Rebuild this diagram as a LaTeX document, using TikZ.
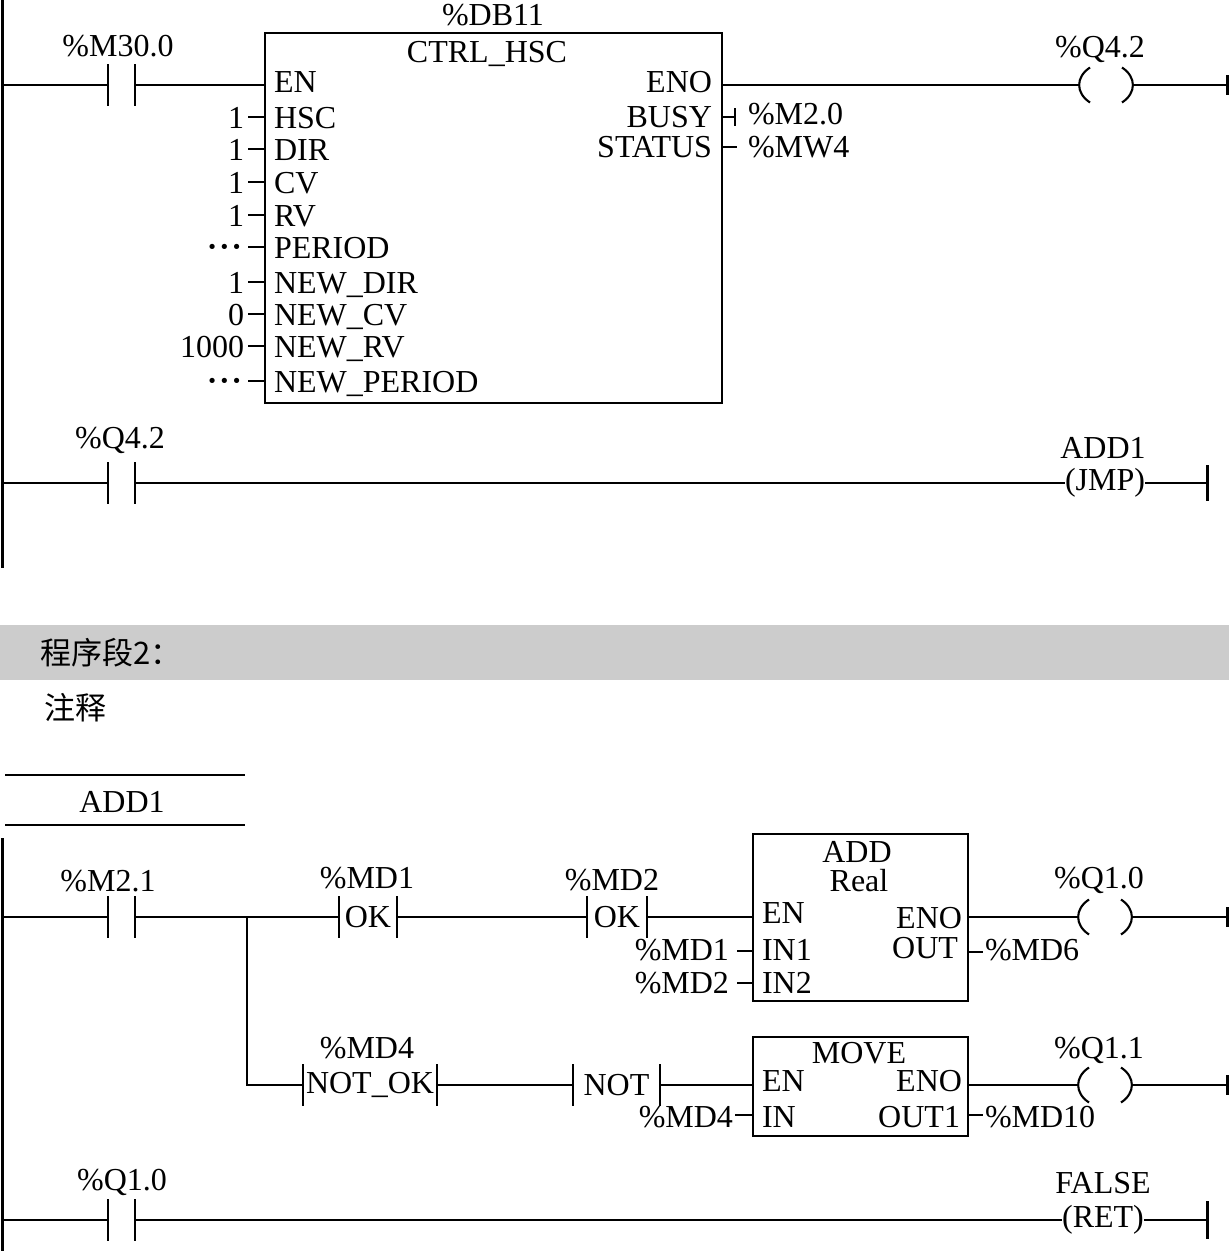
\documentclass[tikz,border=0pt]{standalone}
\usepackage{fontspec}
\setmainfont{Liberation Serif}
\newfontfamily\cjkf{Noto Sans CJK SC}
\newcommand\dgf{\fontsize{32}{36}\selectfont}
\newcommand\cjks{\cjkf\fontsize{31}{34}\selectfont}
\newcommand\dotsx{{\bfseries\textperiodcentered\kern1.5pt\textperiodcentered\kern1.5pt\textperiodcentered}}
\newcommand\drawbars[1]{\draw[bar] (#1.north west) -- (#1.south west); \draw[bar] (#1.north east) -- (#1.south east);}
\newcommand\drawcoil[1]{%
 \draw[paren] ([xshift=11pt,yshift=17.5pt]#1.west) .. controls ([xshift=-3.5pt,yshift=8pt]#1.west) and ([xshift=-3.5pt,yshift=-8pt]#1.west) .. ([xshift=11pt,yshift=-17.5pt]#1.west);
 \draw[paren] ([xshift=-11pt,yshift=17.5pt]#1.east) .. controls ([xshift=3.5pt,yshift=8pt]#1.east) and ([xshift=3.5pt,yshift=-8pt]#1.east) .. ([xshift=-11pt,yshift=-17.5pt]#1.east);}
\newcommand\lpin[3]{\draw[wire] (248,#1) -- (265,#1); \node[txt,anchor=base west] at (274,#2) {#3};}
\newcommand\lval[2]{\node[txt,anchor=base east] at (244,#1) {#2};}
\begin{document}
\begin{tikzpicture}[x=1pt,y=-1pt,
  wire/.style={line width=1.6pt},
  paren/.style={line width=2.1pt},
  rail/.style={line width=3pt},
  bar/.style={line width=1.8pt},
  txt/.style={font=\dgf, inner sep=0pt, outer sep=0pt},
  fbox/.style={draw, line width=1.7pt, inner sep=0pt, outer sep=0pt},
  contact/.style={minimum width=27pt, minimum height=42pt, inner sep=0pt, outer sep=0pt, font=\dgf},
  coil/.style={minimum width=54pt, minimum height=36pt, inner sep=0pt, outer sep=0pt},
  endtick/.style={line width=3pt}]
\useasboundingbox (0,0) rectangle (1229,1251);
% ---------- rung 1
\draw[rail] (2,0) -- (2,568);
\coordinate (r1) at (2,85);
\node[contact] (k1) at (121.5,85) {};
\drawbars{k1}
\node[txt,anchor=base] (k1l) at (118,56) {\%M30.0};
\node[fbox, minimum width=457pt, minimum height=370pt] (hsc) at (493.5,218) {};
\node[txt,anchor=base] (db) at (493,25) {\%DB11};
\node[txt,anchor=base] (hsct) at (487,62) {CTRL\_HSC};
\node[txt,anchor=base west] (hscen) at (274,92) {EN};
\draw[wire] (r1) -- (k1.west);
\draw[wire] (k1.east) -- (k1.east -| hsc.west);
\lpin{117}{128}{HSC}\lval{128}{1}
\lpin{149}{160}{DIR}\lval{160}{1}
\lpin{182}{193}{CV}\lval{193}{1}
\lpin{215}{226}{RV}\lval{226}{1}
\lpin{247}{258}{PERIOD}
\node[txt,anchor=base east] (dots1) at (242,257) {\dotsx};
\lpin{282}{293}{NEW\_DIR}\lval{293}{1}
\lpin{314}{325}{NEW\_CV}\lval{325}{0}
\lpin{346}{357}{NEW\_RV}\lval{357}{1000}
\lpin{381}{392}{NEW\_PERIOD}
\node[txt,anchor=base east] (dots2) at (242,391) {\dotsx};
\node[txt,anchor=base east] (hsceno) at (712,92) {ENO};
\node[txt,anchor=base east] (hscbusy) at (712,127) {BUSY};
\node[txt,anchor=base east] (hscstat) at (712,157) {STATUS};
\draw[wire] (722,117) -- (735,117);
\draw[wire] (735,108) -- (735,126);
\draw[wire] (722,147) -- (737,147);
\node[txt,anchor=base west] (m20) at (748,124) {\%M2.0};
\node[txt,anchor=base west] (mw4) at (748,157) {\%MW4};
\node[coil] (q1) at (1106,85) {};
\drawcoil{q1}
\node[txt,anchor=base] (q1l) at (1100,57) {\%Q4.2};
\draw[wire] (hsc.east |- q1.west) -- (q1.west);
\coordinate (e1) at (1227,85);
\draw[wire] (q1.east) -- (e1);
\draw[endtick] (1227,75) -- (1227,95);
% ---------- rung 2
\coordinate (r2) at (2,483);
\node[contact] (k2) at (121.5,483) {};
\drawbars{k2}
\node[txt,anchor=base] (k2l) at (120,448) {\%Q4.2};
\node[txt] (jmp) at (1105,483) {(JMP)};
\node[txt,anchor=base] (jmpl) at (1103,458) {ADD1};
\coordinate (e2) at (1207,483);
\draw[wire] (r2) -- (k2.west);
\draw[wire] (k2.east) -- (jmp.west);
\draw[wire] (jmp.east) -- (e2);
\draw[endtick] (1207,465) -- (1207,501);
% ---------- network header
\fill[gray!40] (0,625) rectangle (1229,680);
\node[anchor=base west, inner sep=0pt, font=\cjks] (seg) at (40,664) {程序段2：};
\node[anchor=base west, inner sep=0pt, font=\cjks] (cmt) at (44,719) {注释};
\draw[wire] (5,775) -- (245,775);
\draw[wire] (5,825) -- (245,825);
\node[txt,anchor=base] (lbl) at (122,812) {ADD1};
% ---------- rung 3
\draw[rail] (2,838) -- (2,1251);
\coordinate (r3) at (2,917);
\node[contact] (k3) at (121.5,917) {};
\drawbars{k3}
\node[txt,anchor=base] (k3l) at (108,891) {\%M2.1};
\node[contact, minimum width=58pt] (ok1) at (368,917) {OK};
\drawbars{ok1}
\node[txt,anchor=base] (ok1l) at (367,888) {\%MD1};
\node[contact, minimum width=60pt] (ok2) at (617,917) {OK};
\drawbars{ok2}
\node[txt,anchor=base] (ok2l) at (612,890) {\%MD2};
\node[fbox, minimum width=215pt, minimum height=167pt] (add) at (860.5,917.5) {};
\node[txt,anchor=base] at (857,862) {ADD};
\node[txt,anchor=base] at (859,891) {Real};
\node[txt,anchor=base west] at (762,923) {EN};
\node[txt,anchor=base east] at (962,928) {ENO};
\node[txt,anchor=base west] at (762,960) {IN1};
\node[txt,anchor=base west] at (762,993) {IN2};
\node[txt,anchor=base east] at (958,958) {OUT};
\draw[wire] (737,951) -- (753,951);
\draw[wire] (737,983) -- (753,983);
\draw[wire] (968,952) -- (983,952);
\node[txt,anchor=base east] at (729,960) {\%MD1};
\node[txt,anchor=base east] at (729,993) {\%MD2};
\node[txt,anchor=base west] at (985,960) {\%MD6};
\node[coil] (q3) at (1105,917) {};
\drawcoil{q3}
\node[txt,anchor=base] (q3l) at (1099,888) {\%Q1.0};
\coordinate (br) at (247,917);
\coordinate (e3) at (1227,917);
\draw[wire] (r3) -- (k3.west);
\draw[wire] (k3.east) -- (ok1.west);
\draw[wire] (ok1.east) -- (ok2.west);
\draw[wire] (ok2.east) -- (ok2.east -| add.west);
\draw[wire] (add.east |- q3.west) -- (q3.west);
\draw[wire] (q3.east) -- (e3);
\draw[endtick] (1227,907) -- (1227,927);
% ---------- rung 4
\node[contact, minimum width=134pt] (nok) at (370,1085) {NOT\_OK};
\drawbars{nok}
\node[txt,anchor=base] (nokl) at (367,1058) {\%MD4};
\node[contact, minimum width=87pt] (nt) at (616.5,1085) {NOT};
\drawbars{nt}
\node[fbox, minimum width=215pt, minimum height=99pt] (mov) at (860.5,1086.5) {};
\node[txt,anchor=base] at (859,1063) {MOVE};
\node[txt,anchor=base west] at (762,1091) {EN};
\node[txt,anchor=base east] at (962,1091) {ENO};
\node[txt,anchor=base west] at (762,1127) {IN};
\node[txt,anchor=base east] at (960,1127) {OUT1};
\draw[wire] (735,1115) -- (753,1115);
\draw[wire] (968,1115) -- (983,1115);
\node[txt,anchor=base east] at (733,1127) {\%MD4};
\node[txt,anchor=base west] at (985,1127) {\%MD10};
\node[coil] (q4) at (1105,1085) {};
\drawcoil{q4}
\node[txt,anchor=base] (q4l) at (1099,1058) {\%Q1.1};
\coordinate (e4) at (1227,1085);
\draw[wire] (br) |- (nok.west);
\draw[wire] (nok.east) -- (nt.west);
\draw[wire] (nt.east) -- (nt.east -| mov.west);
\draw[wire] (mov.east |- q4.west) -- (q4.west);
\draw[wire] (q4.east) -- (e4);
\draw[endtick] (1227,1075) -- (1227,1095);
% ---------- rung 5
\coordinate (r5) at (2,1220);
\node[contact] (k5) at (121.5,1220) {};
\drawbars{k5}
\node[txt,anchor=base] (k5l) at (122,1190) {\%Q1.0};
\node[txt] (ret) at (1103,1220) {(RET)};
\node[txt,anchor=base] (retl) at (1103,1193) {FALSE};
\coordinate (e5) at (1207,1220);
\draw[wire] (r5) -- (k5.west);
\draw[wire] (k5.east) -- (ret.west);
\draw[wire] (ret.east) -- (e5);
\draw[endtick] (1207,1201) -- (1207,1239);
\end{tikzpicture}
\end{document}
